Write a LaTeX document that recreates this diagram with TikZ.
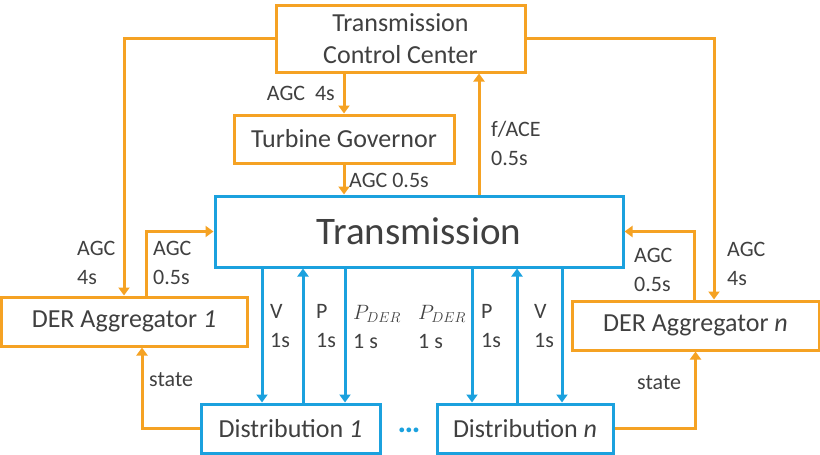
\documentclass[tikz,border=0pt]{standalone}
\usepackage{fontspec}
\setmainfont{Carlito}
\usetikzlibrary{arrows.meta}
\definecolor{orng}{RGB}{245,162,35}
\definecolor{blu}{RGB}{27,161,222}
\definecolor{txt}{RGB}{64,64,64}
\begin{document}
\begin{tikzpicture}[x=1pt,y=-1pt,
 obox/.style={draw=orng, line width=3pt, fill=white, inner sep=0pt, text=txt, font=\fontsize{26}{32}\selectfont, align=center},
 bbox/.style={obox, draw=blu},
 oarr/.style={draw=orng, line width=3pt, -{Triangle[width=11pt,length=8pt]}},
 barr/.style={draw=blu, line width=3pt, -{Triangle[width=11pt,length=8pt]}},
 lbl/.style={text=txt, font=\fontsize{22}{29}\selectfont, inner sep=0pt, align=left}]
\useasboundingbox (0,0) rectangle (820,455);
% boxes
\node[obox, minimum width=249pt, minimum height=67pt] (tcc) at (400.5,38.5) {Transmission\\Control Center};
\node[obox, minimum width=220pt, minimum height=48pt] (tg) at (344,139) {Turbine Governor};
\node[bbox, minimum width=408pt, minimum height=71pt, font=\fontsize{39}{40}\selectfont] (tr) at (419,231.5) {Transmission};
\node[obox, minimum width=246pt, minimum height=49pt] (d1) at (124,321.5) {DER Aggregator \textit{1}};
\node[obox, minimum width=247pt, minimum height=49pt] (dn) at (695.5,325.5) {DER Aggregator \textit{n}};
\node[bbox, minimum width=179pt, minimum height=49pt] (s1) at (290.5,428.5) {Distribution \textit{1}};
\node[bbox, minimum width=176pt, minimum height=49pt] (sn) at (525,428.5) {Distribution \textit{n}};
\node[text=blu, font=\fontsize{32}{32}\selectfont\bfseries, inner sep=0pt] (dots) at (409,430) {…};
% orange connectors
\coordinate (xf) at (479,0);
\draw[oarr] (tcc.west) -| (d1.north);
\draw[oarr] (tcc.east) -| ([xshift=18.5pt]dn.north);
\draw[oarr] (tcc.south -| tg.north) -- (tg.north);
\draw[oarr] (tg.south) -- (tg.south |- tr.north);
\draw[oarr] (tr.north -| xf) -- (tcc.south -| xf);
\draw[oarr] ([xshift=22pt]d1.north) |- (tr.west);
\draw[oarr] ([xshift=-1.5pt]dn.north) |- (tr.east);
\draw[oarr] (s1.west) -| ([xshift=18pt]d1.south);
\draw[oarr] (sn.east) -| (dn.south);
% blue connectors
\coordinate (xa1) at (262,0);
\coordinate (xb1) at (303,0);
\coordinate (xc1) at (345,0);
\coordinate (xa2) at (472,0);
\coordinate (xb2) at (517,0);
\coordinate (xc2) at (562,0);
\draw[barr] (tr.south -| xa1) -- (s1.north -| xa1);
\draw[barr] (s1.north -| xb1) -- (tr.south -| xb1);
\draw[barr] (tr.south -| xc1) -- (s1.north -| xc1);
\draw[barr] (tr.south -| xa2) -- (sn.north -| xa2);
\draw[barr] (sn.north -| xb2) -- (tr.south -| xb2);
\draw[barr] (tr.south -| xc2) -- (sn.north -| xc2);
% labels
\node[lbl, anchor=east] (l1) at (335,93) {AGC\ \ 4s};
\node[lbl, anchor=west] (l2) at (349,180) {AGC 0.5s};
\node[lbl, anchor=west] (l3) at (491,143) {f/ACE\\0.5s};
\node[lbl, anchor=west] (l4) at (77,263) {AGC\\4s};
\node[lbl, anchor=west] (l5) at (153,263) {AGC\\0.5s};
\node[lbl, anchor=west] (l6) at (634,270) {AGC\\0.5s};
\node[lbl, anchor=west] (l7) at (727,264) {AGC\\4s};
\node[lbl, anchor=west] (l8) at (149,380) {state};
\node[lbl, anchor=west] (l9) at (637,383) {state};
\node[lbl, anchor=west] (v1) at (270,326) {V\\1s};
\node[lbl, anchor=west] (p1) at (316,326) {P\\1s};
\node[lbl, anchor=west] (q1) at (353,327) {$P_{DER}$\\1 s};
\node[lbl, anchor=west] (q2) at (418,327) {$P_{DER}$\\1 s};
\node[lbl, anchor=west] (p2) at (481,326) {P\\1s};
\node[lbl, anchor=west] (v2) at (534,326) {V\\1s};
\end{tikzpicture}
\end{document}
